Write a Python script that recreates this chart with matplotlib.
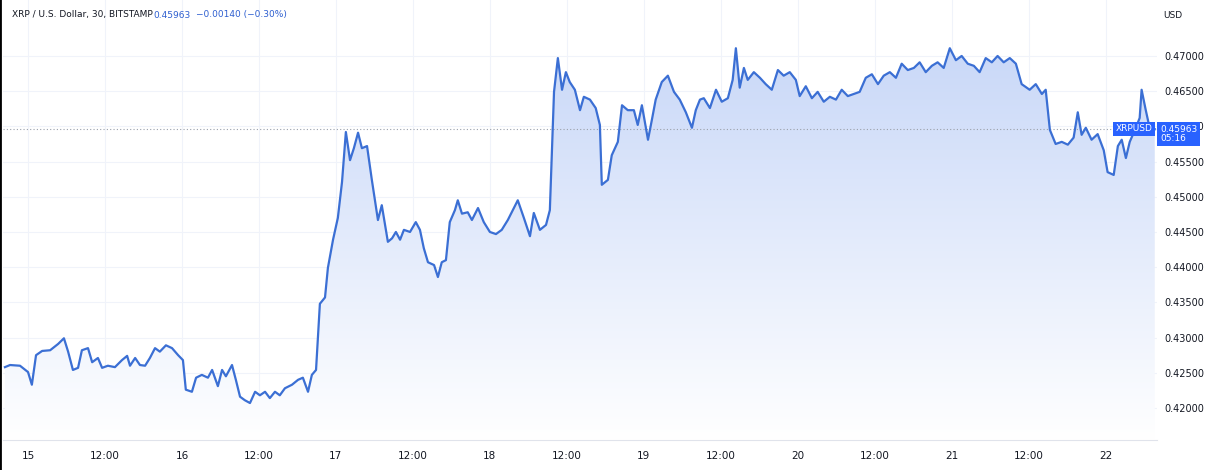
import matplotlib
matplotlib.use("Agg")
import matplotlib.pyplot as plt
import numpy as np
from matplotlib.patches import Polygon
from matplotlib.colors import LinearSegmentedColormap

# time in 30-minute bars from 15th 00:00
bars = [-7.2,-5.6,-2.5,0,1.2,2.5,4.4,6.9,9.4,11.2,12.5,14,15.6,16.8,18.7,20,21.8,23.1,24.9,27.1,29.3,30.9,31.8,33.4,34.9,36.5,38,39.6,41.1,43,44.9,46.8,48.3,49.2,51.1,52.4,54.2,56.1,57.4,59.2,60.5,61.7,63.6,64.8,66.1,67.6,69.2,70.8,72.3,73.9,75.4,77,78.5,80.1,82.3,84.2,85.7,87.3,88.5,89.8,91,92.6,93.5,95.1,96.6,97.9,99.1,100.4,101.6,102.9,104.1,105.7,107.2,109.1,110.3,112.2,113.5,114.7,116,117.2,119.1,120.9,122.2,123.4,124.7,126.6,127.8,129,130.3,131.5,133.1,134,135.3,137.1,138.4,140.3,142.1,144,145.9,147.7,149.6,151.5,152.7,154.6,156.5,157.7,159.6,161.5,162.7,164,165.2,166.5,167.7,168.9,170.5,172.1,173.3,175.2,177,178.3,178.9,180.8,182,183.9,185.2,187,188.9,190.1,191.4,193.3,194.5,195.7,197.6,199.5,201.4,203.2,205.1,207,208.2,209.5,210.7,212.6,214.5,216.3,218.2,219.7,220.7,221.9,223.2,224.4,226.3,228.2,230,231.9,233.8,235.6,237.5,239.4,240.6,242.5,244.4,246.2,248.1,250,251.9,253.7,255.6,257.5,259.3,261.2,263.1,265,266.8,268.7,270.6,272.4,274.3,276.2,278,279.9,281.8,283.6,285.5,287.4,289.3,291.1,293,294.9,296.7,298.6,300.5,302.3,304.2,306.1,308,309.8,312.3,314.2,316.1,317.3,318.6,320.4,322.3,324.2,326,327.3,328.5,329.8,331.6,333.5,335.4,336.6,338.5,339.8,341,342.3,343.5,345.4,346.6,347.2,348.5,349.7,351.3]
prices = [0.4258,0.4261,0.4260,0.4251,0.4233,0.4275,0.4281,0.4282,0.4291,0.4299,0.4280,0.4254,0.4257,0.4282,0.4285,0.4265,0.4271,0.4257,0.4260,0.4258,0.4268,0.4274,0.4260,0.4271,0.4261,0.4260,0.4271,0.4285,0.4280,0.4289,0.4285,0.4275,0.4268,0.4226,0.4223,0.4243,0.4247,0.4243,0.4254,0.4231,0.4254,0.4245,0.4261,0.4240,0.4216,0.4211,0.4207,0.4223,0.4218,0.4223,0.4214,0.4223,0.4218,0.4228,0.4233,0.4240,0.4243,0.4223,0.4247,0.4254,0.4348,0.4357,0.4399,0.4439,0.4470,0.4521,0.4592,0.4552,0.4569,0.4591,0.4569,0.4572,0.4524,0.4467,0.4488,0.4436,0.4441,0.4450,0.4439,0.4453,0.4450,0.4464,0.4453,0.4427,0.4407,0.4403,0.4386,0.4407,0.4410,0.4464,0.4481,0.4495,0.4476,0.4478,0.4467,0.4484,0.4464,0.4450,0.4447,0.4453,0.4467,0.4484,0.4495,0.4470,0.4444,0.4477,0.4453,0.4460,0.4481,0.4649,0.4697,0.4652,0.4677,0.4663,0.4652,0.4623,0.4642,0.4638,0.4626,0.4602,0.4517,0.4524,0.4559,0.4578,0.4630,0.4623,0.4623,0.4602,0.4630,0.4581,0.4609,0.4638,0.4663,0.4672,0.4649,0.4638,0.4620,0.4598,0.4623,0.4638,0.4640,0.4626,0.4652,0.4635,0.4640,0.4666,0.4711,0.4655,0.4683,0.4666,0.4677,0.4669,0.4660,0.4652,0.4680,0.4672,0.4677,0.4666,0.4643,0.4657,0.4640,0.4649,0.4635,0.4642,0.4638,0.4652,0.4643,0.4646,0.4649,0.4669,0.4674,0.4660,0.4672,0.4677,0.4669,0.4689,0.4680,0.4683,0.4691,0.4677,0.4686,0.4691,0.4683,0.4711,0.4694,0.4700,0.4689,0.4686,0.4677,0.4697,0.4691,0.4700,0.4691,0.4697,0.4689,0.4660,0.4652,0.4660,0.4646,0.4652,0.4595,0.4575,0.4578,0.4574,0.4584,0.4620,0.4588,0.4598,0.4581,0.4589,0.4566,0.4535,0.4531,0.4572,0.4581,0.4555,0.4578,0.4598,0.4612,0.4652,0.4623,0.4598,0.4596]
last_price = 0.45963
xtick_bars = [0,24,48,72,96,120,144,168,192,216,240,264,288,312,336]
xtick_labels = ["15","12:00","16","12:00","17","12:00","18","12:00","19","12:00","20","12:00","21","12:00","22"]
ytick_vals = [0.42,0.425,0.43,0.435,0.44,0.445,0.45,0.455,0.46,0.465,0.47]

W, H = 1207, 470
fig = plt.figure(figsize=(W/100, H/100), dpi=100)
ax = fig.add_axes([3/W, 30/H, 1154/W, 440/H])
ax.set_xlim(-7.8, 352)
ax.set_ylim(0.41545, 0.47795)
line = "#3b6fd4"

for t in xtick_bars:
    ax.axvline(t, color="#f0f3fa", lw=0.8, zorder=0)
for v in ytick_vals:
    ax.axhline(v, color="#f0f3fa", lw=0.8, zorder=0)

grad = np.linspace(1, 0, 256).reshape(-1, 1)
cmap = LinearSegmentedColormap.from_list("g", ["#ffffff", "#c9d8f8"])
im = ax.imshow(grad, cmap=cmap, aspect="auto", extent=[-7.8, 352, 0.41545, 0.4711], zorder=1, vmin=0, vmax=1)
poly = Polygon(list(zip(bars, prices)) + [(bars[-1], 0.41545), (bars[0], 0.41545)], closed=True,
               transform=ax.transData, facecolor="none", edgecolor="none")
ax.add_patch(poly)
im.set_clip_path(poly)
ax.plot(bars, prices, color=line, lw=1.6, zorder=3)
ax.axhline(last_price, color="#9aa0aa", lw=0.8, ls=(0, (1, 2)), zorder=2)

ax.set_xticks(xtick_bars)
ax.set_xticklabels(xtick_labels, fontsize=7.5, color="#131722")
ax.tick_params(axis="x", length=0, pad=8)
ax.yaxis.tick_right()
ax.set_yticks(ytick_vals)
ax.set_yticklabels([f"{v:.5f}" for v in ytick_vals], fontsize=7, color="#131722")
ax.tick_params(axis="y", length=0, pad=5)
for s in ["top", "right", "left"]:
    ax.spines[s].set_visible(False)
ax.spines["bottom"].set_color("#e0e3eb")

fig.text(12/W, 1-15/H, "XRP / U.S. Dollar, 30, BITSTAMP", fontsize=6.5, color="#131722", va="center")
fig.text(153/W, 1-15/H, "0.45963", fontsize=6.5, color="#2e5fd0", va="center")
fig.text(196/W, 1-15/H, "\u22120.00140 (\u22120.30%)", fontsize=6.5, color="#2e5fd0", va="center")
fig.text(1163/W, 1-15/H, "USD", fontsize=6.5, color="#131722", va="center")
ax.text(0.996, last_price, "XRPUSD", transform=ax.get_yaxis_transform(), ha="right", va="center",
        fontsize=6.5, color="white", bbox=dict(boxstyle="square,pad=0.25", fc="#2962ff", ec="none"), zorder=5)
fig.text(1160/W, 1-134/H, "0.45963\n05:16", fontsize=6.5, color="white", va="center", linespacing=1.1,
         bbox=dict(boxstyle="square,pad=0.3", fc="#2962ff", ec="none"))
fig.add_artist(plt.Line2D([0, 0], [0, 1], color="black", lw=2, transform=fig.transFigure))
fig.savefig("out.png", dpi=100, facecolor="white")
